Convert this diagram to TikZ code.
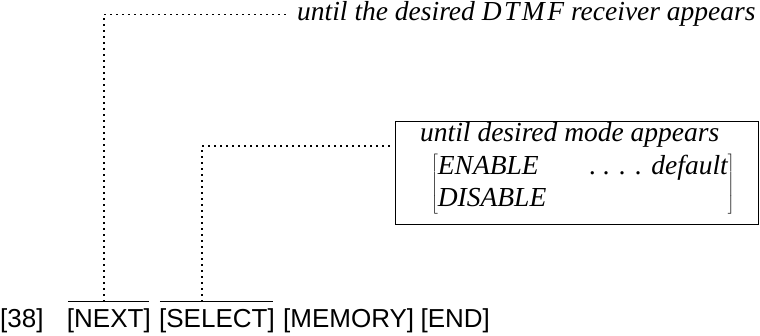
\documentclass[tikz,border=0pt]{standalone}
\usepackage{fontspec}
\setmainfont{Liberation Serif}
\setsansfont{Liberation Sans}
\usepackage{tikz}
\usetikzlibrary{positioning}
\tikzset{
  keycap/.style={font=\sffamily\fontsize{26}{30}\selectfont, inner xsep=0pt, inner ysep=0pt, text height=26pt, text depth=0pt},
  keybar/.style={line width=1.1pt, shorten <=1pt, shorten >=2pt},
  lead/.style={line width=1.5pt, dash pattern=on 2pt off 4pt},
  note/.style={font=\itshape\fontsize{27.5}{32}\selectfont, inner sep=0pt, align=left},
  modebox/.style={draw, line width=1.2pt, minimum width=363pt, minimum height=103pt, inner sep=0pt}
}

\begin{document}
\begin{tikzpicture}[x=1pt, y=-1pt]
  \useasboundingbox (0,0) rectangle (760,336);

  % keys along the bottom
  \node[keycap, anchor=base west] (k38) at (0,328) {[38]};
  \node[keycap, base right=23pt of k38] (knext) {[NEXT]};
  \node[keycap, base right=8pt of knext] (kselect) {[SELECT]};
  \node[keycap, base right=8pt of kselect] (kmemory) {[MEMORY]};
  \node[keycap, base right=6pt of kmemory] (kend) {[END]};
  \draw[keybar] (knext.north west) -- (knext.north east);
  \draw[keybar] (kselect.north west) -- (kselect.north east);

  % top note
  \node[note, anchor=base west] (dtmf) at (297,21) {until the desired D\kern2.5pt T\kern2.5pt M\kern2.5pt F receiver appears};

  % mode box
  \node[modebox, anchor=north west] (mode) at (395,121) {};
  \node[note, anchor=base west] (modehead) at (420,142) {until desired mode appears};
  \node[note, anchor=west] (modelist) at (431,184.6)
    {$\renewcommand\arraystretch{0.85}\left[\begin{tabular}{@{}l@{}}\makebox[290pt]{ENABLE\hfill. . . . default}\\[4.8pt]DISABLE\end{tabular}\right]$};

  % leaders
  \draw[lead, shorten >=9pt] ([xshift=37pt]knext.north west) |- (dtmf.west);
  \draw[lead, shorten >=5pt] ([xshift=43pt]kselect.north west) |- ([yshift=-25pt]mode.north west);
\end{tikzpicture}
\end{document}
